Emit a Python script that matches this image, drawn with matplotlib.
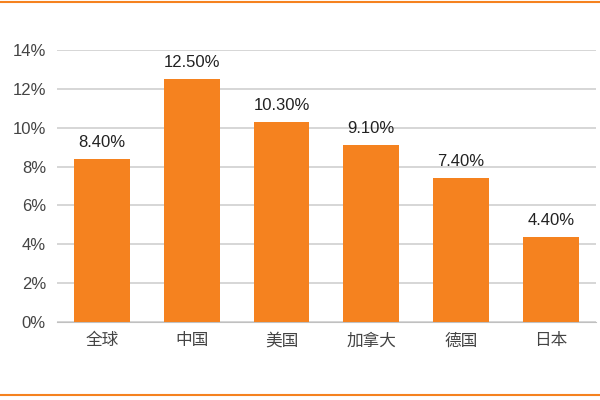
import matplotlib.pyplot as plt
import numpy as np

plt.rcParams['font.family'] = ['Liberation Sans', 'Noto Sans CJK SC']

countries = ['全球', '中国', '美国', '加拿大', '德国', '日本']
rates = [8.4, 12.5, 10.3, 9.1, 7.4, 4.4]
yticks = [0, 2, 4, 6, 8, 10, 12, 14]

fig = plt.figure(figsize=(6, 4), dpi=100)
ax = fig.add_axes([0.095, 0.195, 0.898, 0.68])

pos = np.arange(len(countries))
ax.bar(pos, rates, width=0.62, color='#F5821F', zorder=3)
for p, r in zip(pos, rates):
    ax.text(p, r + 0.45, '%.2f%%' % r, ha='center', va='bottom', fontsize=12, color='#222222')

ax.set_xlim(-0.5, len(countries) - 0.5)
ax.set_ylim(0, 14)
ax.set_yticks(yticks)
ax.set_yticklabels(['%d%%' % t for t in yticks], fontsize=12, color='#444444')
ax.set_xticks(pos)
ax.set_xticklabels(countries, fontsize=12, color='#444444')
ax.yaxis.grid(True, color='#d0d0d0', linewidth=1.2, zorder=0)
for s in ['top', 'right', 'left']:
    ax.spines[s].set_visible(False)
ax.spines['bottom'].set_color('#c0c0c0')
ax.tick_params(length=0, pad=8)

# orange rules at top and bottom of the image
fig.add_artist(plt.Line2D([0, 1], [0.995, 0.995], color='#F5821F', linewidth=1.5))
fig.add_artist(plt.Line2D([0, 1], [0.012, 0.012], color='#F5821F', linewidth=1.5))

fig.savefig('out.png')
